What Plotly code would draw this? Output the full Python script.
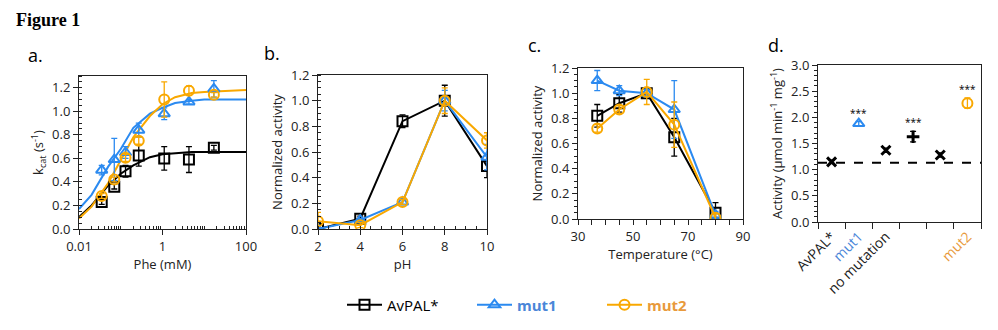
import plotly.graph_objects as go

# ---------------- data ----------------
series = ["AvPAL*", "mut1", "mut2"]
colors = {"AvPAL*": "#000000", "mut1": "#2b8af0", "mut2": "#f9a800"}
symbols = {"AvPAL*": "square-open", "mut1": "triangle-up-open", "mut2": "circle-open"}

# panel a: kcat vs Phe (mM)
phe = [0.035, 0.07, 0.13, 0.27, 1.1, 4.3, 17]
kcat_avpal = [0.23, 0.36, 0.49, 0.625, 0.60, 0.59, 0.69]
kcat_mut1 = [0.50, 0.59, 0.65, 0.84, 0.98, 1.08, 1.19]
kcat_mut2 = [0.28, 0.42, 0.605, 0.75, 1.10, 1.175, 1.14]
kcat_err_avpal = [0.02, 0.02, 0.05, 0.09, 0.10, 0.11, 0.02]
kcat_err_mut1 = [0.04, 0.18, 0.05, 0.06, 0.05, 0.02, 0.07]
kcat_err_mut2 = [0.02, 0.02, 0.03, 0.03, 0.15, 0.04, 0.02]

# fitted curves
fit_x = [0.01, 0.02, 0.05, 0.1, 0.2, 0.5, 1, 2, 5, 10, 20, 50, 100]
fit_avpal = [0.10, 0.20, 0.37, 0.47, 0.54, 0.61, 0.635, 0.645, 0.655, 0.655, 0.655, 0.655, 0.655]
fit_mut1 = [0.17, 0.29, 0.53, 0.68, 0.86, 0.98, 1.03, 1.07, 1.09, 1.10, 1.10, 1.10, 1.10]
fit_mut2 = [0.09, 0.19, 0.39, 0.58, 0.78, 0.96, 1.06, 1.12, 1.155, 1.165, 1.17, 1.175, 1.18]

# panel b: pH profile
ph = [2, 4, 6, 8, 10]
ph_avpal = [0.0, 0.08, 0.84, 1.0, 0.49]
ph_mut1 = [0.0, 0.07, 0.21, 1.0, 0.56]
ph_mut2 = [0.06, 0.03, 0.21, 1.0, 0.69]
ph_err_avpal = [0.01, 0.02, 0.05, 0.12, 0.09]
ph_err_mut1 = [0.01, 0.01, 0.02, 0.08, 0.10]
ph_err_mut2 = [0.07, 0.02, 0.02, 0.10, 0.06]

# panel c: temperature profile
temp = [37, 45, 55, 65, 80]
t_avpal = [0.82, 0.92, 1.0, 0.65, 0.05]
t_mut1 = [1.10, 1.02, 1.0, 0.87, 0.03]
t_mut2 = [0.72, 0.87, 1.01, 0.75, 0.01]
t_err_avpal = [0.09, 0.07, 0.03, 0.15, 0.08]
t_err_mut1 = [0.08, 0.04, 0.03, 0.23, 0.03]
t_err_mut2 = [0.03, 0.03, 0.10, 0.18, 0.03]

# panel d: activity
d_cats = [1, 2, 3, 4, 5, 6]
d_labels = ["AvPAL*", "<span style='color:#4a86d8'>mut1</span>", "no mutation", " ", " ",
            "<span style='color:#e89a3c'>mut2</span>"]
d_values = [1.15, 1.88, 1.37, 1.63, 1.28, 2.27]
d_err = [0.03, 0.04, 0.04, 0.10, 0.04, 0.10]
d_baseline = 1.13
d_signif = ["", "***", "", "***", "", "***"]

W, H = 998, 330
FONT = "Open Sans"
TICKC = "#222222"

def xd(a, b):
    return [a / W, b / W]

def yd(top, bottom):
    return [1 - bottom / H, 1 - top / H]

fig = go.Figure()

legend_names = {
    "AvPAL*": "AvPAL*",
    "mut1": "<b><span style='color:#4a86d8'>mut1</span></b>",
    "mut2": "<b><span style='color:#e89a3c'>mut2</span></b>",
}

def add_pts(x, y, e, name, xa, ya, mode="markers", legend=False):
    c = colors[name]
    fig.add_trace(go.Scatter(
        x=x, y=y, mode=mode, name=legend_names[name],
        xaxis=xa, yaxis=ya, showlegend=legend,
        line=dict(color=c, width=2),
        marker=dict(symbol=symbols[name], size=10, color=c, line=dict(width=2, color=c)),
        error_y=dict(type="data", array=e, color=c, thickness=1.3, width=3),
    ))

# panel a
for name, yv in zip(series, [fit_avpal, fit_mut1, fit_mut2]):
    fig.add_trace(go.Scatter(x=fit_x, y=yv, mode="lines", xaxis="x", yaxis="y",
                             line=dict(color=colors[name], width=2), showlegend=False))
for name, yv, ev in zip(series, [kcat_avpal, kcat_mut1, kcat_mut2],
                        [kcat_err_avpal, kcat_err_mut1, kcat_err_mut2]):
    add_pts(phe, yv, ev, name, "x", "y")

# panel b
for name, yv, ev in zip(series, [ph_avpal, ph_mut1, ph_mut2],
                        [ph_err_avpal, ph_err_mut1, ph_err_mut2]):
    add_pts(ph, yv, ev, name, "x2", "y2", mode="lines+markers")

# panel c
for name, yv, ev in zip(series, [t_avpal, t_mut1, t_mut2],
                        [t_err_avpal, t_err_mut1, t_err_mut2]):
    add_pts(temp, yv, ev, name, "x3", "y3", mode="lines+markers", legend=True)

# panel d
fig.add_trace(go.Scatter(x=[0.5, 6.5], y=[d_baseline, d_baseline], mode="lines",
                         xaxis="x4", yaxis="y4", showlegend=False,
                         line=dict(color="black", width=2, dash="dash")))
d_sym = ["x-thin-open", "triangle-up-open", "x-thin-open", "cross-thin-open", "x-thin-open", "circle-open"]
d_col = ["black", colors["mut1"], "black", "black", "black", colors["mut2"]]
for i in range(len(d_cats)):
    thin = "thin" in d_sym[i]
    fig.add_trace(go.Scatter(
        x=[d_cats[i]], y=[d_values[i]], mode="markers", xaxis="x4", yaxis="y4", showlegend=False,
        marker=dict(symbol=d_sym[i], size=9 if thin else 10,
                    color=d_col[i], line=dict(width=3 if thin else 2, color=d_col[i])),
        error_y=dict(type="data", array=[d_err[i]], color=d_col[i], thickness=1.3, width=3),
    ))
    if d_signif[i]:
        fig.add_annotation(x=d_cats[i], y=d_values[i] + d_err[i], xref="x4", yref="y4",
                           text=d_signif[i], showarrow=False, yanchor="bottom", yshift=0,
                           font=dict(family=FONT, size=10, color="black"))

def axis(domain, rng, title, **kw):
    d = dict(domain=domain, range=rng, showline=True, linecolor="#222", linewidth=1,
             mirror=True, showgrid=False, zeroline=False, automargin=False,
             tickfont=dict(family=FONT, size=13, color=TICKC),
             title=dict(text=title, font=dict(family=FONT, size=13, color=TICKC), standoff=5),
             ticks="outside", ticklen=5, tickcolor="#222")
    d.update(kw)
    return d

minor_in = lambda dt: dict(ticks="inside", ticklen=3, dtick=dt, tickcolor="#222", showgrid=False)
minor_out = lambda dt: dict(ticks="outside", ticklen=3, dtick=dt, tickcolor="#222", showgrid=False)

log_minor = [m * 10 ** e for e in (-2, -1, 0, 1) for m in range(2, 10)]

fig.update_layout(
    template="none",
    width=W, height=H, margin=dict(l=0, r=0, t=0, b=0, autoexpand=False),
    paper_bgcolor="white", plot_bgcolor="white",
    xaxis=axis(xd(79, 246), [-2, 2], "Phe (mM)", type="log",
               tickvals=[0.01, 1, 100], ticktext=["0.01", "1", "100"],
               anchor="y", minor=dict(tickmode="array", tickvals=log_minor + [0.1, 10], ticks="inside",
                                      ticklen=3, tickcolor="#222", showgrid=False)),
    yaxis=axis(yd(76, 229), [0, 1.3], "k<sub>cat</sub> (s<sup>-1</sup>)", dtick=0.2,
               tickformat=".1f", anchor="x", minor=minor_in(0.05)),
    xaxis2=axis(xd(318, 487), [2, 10], "pH", dtick=2, anchor="y2", minor=minor_in(0.5)),
    yaxis2=axis(yd(75, 229), [0, 1.2], "Normalized activity", dtick=0.2, tickformat=".1f",
                anchor="x2", minor=minor_in(0.05)),
    xaxis3=axis(xd(578, 743), [30, 90], "Temperature (°C)", dtick=20, tick0=30, anchor="y3",
                minor=dict(ticks="outside", ticklen=5, dtick=5, tick0=30, tickcolor="#222",
                           showgrid=False)),
    yaxis3=axis(yd(68, 219), [0, 1.2], "Normalized activity", dtick=0.2, tickformat=".1f",
                anchor="x3", minor=minor_out(0.05)),
    xaxis4=axis(xd(818, 981), [0.5, 6.5], "", anchor="y4", tickmode="array",
                tickvals=d_cats, ticktext=d_labels, tickangle=-45, ticks="",
                tickfont=dict(family=FONT, size=14, color=TICKC),
                minor=dict(tickmode="array", tickvals=[0.5, 1.5, 2.5, 3.5, 4.5, 5.5, 6.5],
                           ticks="outside", ticklen=6, tickcolor="#222", showgrid=False)),
    yaxis4=axis(yd(65, 222), [0, 3.0], "Activity (μmol min<sup>-1</sup> mg<sup>-1</sup>)",
                dtick=0.5, tickformat=".1f", anchor="x4", minor=minor_out(0.1)),
    legend=dict(orientation="h", x=342 / W, xanchor="left", y=1 - 305 / H, yanchor="middle",
                font=dict(family=FONT, size=15, color="black"), entrywidth=80,
                itemwidth=35, bgcolor="rgba(0,0,0,0)"),
)

# titles and panel letters
fig.add_annotation(x=14 / W, y=1 - 20 / H, xref="paper", yref="paper", text="<b>Figure 1</b>",
                   showarrow=False, xanchor="left", yanchor="middle",
                   font=dict(family="Liberation Serif", size=18, color="black"))
for lab, px, py in [("a.", 26, 55), ("b.", 262, 53), ("c.", 526, 45), ("d.", 766, 45)]:
    fig.add_annotation(x=px / W, y=1 - py / H, xref="paper", yref="paper", text=lab,
                       showarrow=False, xanchor="left", yanchor="middle",
                       font=dict(family=FONT, size=18, color="black"))

fig.write_html("out.html")
